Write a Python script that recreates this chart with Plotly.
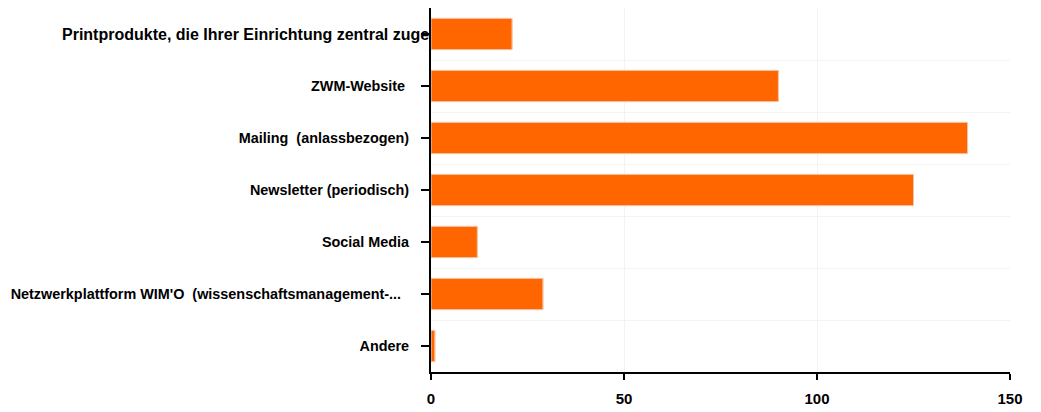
import plotly.graph_objects as go

categories = [
    "Printprodukte, die Ihrer Einrichtung zentral zuge",
    "ZWM-Website\u00a0",
    "Mailing\u00a0 (anlassbezogen)",
    "Newsletter (periodisch)",
    "Social Media",
    "Netzwerkplattform WIM'O\u00a0 (wissenschaftsmanagement-...\u00a0\u00a0",
    "Andere",
]
values = [21, 90, 139, 125, 12, 29, 1]
x_ticks = [0, 50, 100, 150]

bar_color = "#FF6600"
edge_color = "#FF9A5C"
font_family = "Liberation Sans, Arial, sans-serif"

ticktext = [""] + categories[1:]

fig = go.Figure()
fig.add_trace(go.Bar(
    x=values, y=categories, orientation="h",
    marker=dict(color=bar_color, line=dict(color=edge_color, width=1)),
    hoverinfo="x+y", showlegend=False,
))
# invisible trace for boundary gridlines
fig.add_trace(go.Bar(
    x=values, y=categories, orientation="h", yaxis="y2",
    marker=dict(color="rgba(0,0,0,0)"), hoverinfo="skip", showlegend=False,
))

fig.update_layout(
    width=1041, height=412,
    margin=dict(l=423, r=39, t=0, b=48, autoexpand=False),
    paper_bgcolor="white", plot_bgcolor="white",
    bargap=0.4,
    barmode="overlay",
    font=dict(family=font_family, size=14, color="black"),
    xaxis=dict(
        range=[0, 150], tickvals=x_ticks, ticks="outside", ticklen=6,
        tickcolor="black", tickwidth=1.5, showline=True, linecolor="black", linewidth=2,
        showgrid=True, gridcolor="#f3f3f3", gridwidth=1, zeroline=False,
        ticklabelstandoff=6,
        tickfont=dict(family=font_family, size=15, color="black", weight="bold"),
    ),
    yaxis=dict(
        categoryorder="array", categoryarray=categories, autorange="reversed",
        tickvals=categories, ticktext=ticktext,
        ticks="outside", ticklen=8, tickcolor="black", tickwidth=1.5, ticklabelstandoff=9,
        showline=True, linecolor="black", linewidth=2, showgrid=False,
        tickfont=dict(family=font_family, size=14.4, color="black", weight="bold"),
    ),
    yaxis2=dict(
        overlaying="y", categoryorder="array", categoryarray=categories,
        autorange="reversed", tickson="boundaries", showgrid=True,
        gridcolor="#f3f3f3", gridwidth=1, showticklabels=False, ticks="",
        showline=False, zeroline=False,
    ),
    annotations=[dict(
        x=0, xref="paper", y=categories[0], yref="y", xanchor="right",
        yanchor="middle", showarrow=False, text=categories[0],
        font=dict(family=font_family, size=16, color="black", weight="bold"),
    )],
)

fig.write_html("out.html")
